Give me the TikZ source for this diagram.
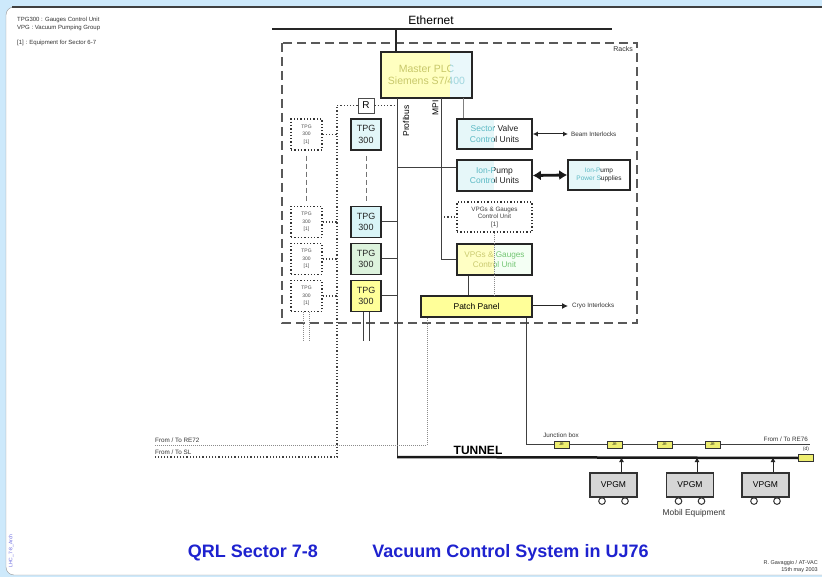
\documentclass[tikz,border=0pt]{standalone}
\usepackage{fontspec}
\setmainfont{Liberation Sans}
\usetikzlibrary{arrows.meta}
\newcommand\fsz[2]{\fontsize{#1}{#2}\selectfont}
\definecolor{bgblue}{HTML}{CDE9FB}
\definecolor{titleblue}{HTML}{1E22CF}
\definecolor{sideblue}{HTML}{6A6AE0}
\definecolor{tpgA}{HTML}{E2F6F8}
\definecolor{tpgB}{HTML}{D9F4F7}
\definecolor{tpgC}{HTML}{DDF3DD}
\definecolor{tpgD}{HTML}{FFFF99}
\definecolor{SVL}{HTML}{E6F7F9}
\definecolor{SVR}{HTML}{FFFFFF}
\definecolor{SVtL}{HTML}{5BB9C4}
\definecolor{SVtR}{HTML}{202020}
\definecolor{PLCL}{HTML}{FFFFC0}
\definecolor{PLCR}{HTML}{EAF8FB}
\definecolor{PLCtL}{HTML}{C8C86A}
\definecolor{PLCtR}{HTML}{9FD6DE}
\definecolor{VPGL}{HTML}{FFFFC4}
\definecolor{VPGR}{HTML}{F4FFF4}
\definecolor{VPGtL}{HTML}{CACA70}
\definecolor{VPGtR}{HTML}{72C672}
\definecolor{ppy}{HTML}{FFFF99}
\definecolor{jy}{HTML}{EEEE70}
\newcommand\twotone[9]{%
  \fill[#7L] (#2,#3) rectangle (#6,#5);
  \fill[#7R] (#6,#3) rectangle (#4,#5);
  \begin{scope}
    \clip (#2,#3) rectangle (#6,#5);
    \node[font={#9}, text=#7tL, align=center, inner sep=0] (#1-l) at ({(#2+#4)/2},{(#3+#5)/2}) {#8};
  \end{scope}
  \begin{scope}
    \clip (#6,#3) rectangle (#4,#5);
    \node[font={#9}, text=#7tR, align=center, inner sep=0] (#1-r) at ({(#2+#4)/2},{(#3+#5)/2}) {#8};
  \end{scope}
  \node[boxframe, minimum width={(#4-#2)*1pt}, minimum height={(#5-#3)*1pt}] (#1) at ({(#2+#4)/2},{(#3+#5)/2}) {};
}
\begin{document}
\begin{tikzpicture}[x=1pt,y=-1pt,
  boxframe/.style={draw=black!85, line width=1.6, inner sep=0},
  tpgbox/.style={boxframe, minimum width=30, minimum height=31, align=center, font=\fsz{9}{11.5}, text=black!85},
  dotbox/.style={draw=black!80, line width=1.3, dotted, fill=white, inner sep=0, align=center},
  tpgdot/.style={dotbox, minimum width=31, minimum height=31, font=\fsz{5}{7.3}, text=black!70},
  wire/.style={draw=black!75, line width=1},
  dotwire/.style={draw=black!75, line width=1.2, dotted},
  graywire/.style={draw=black!45, line width=1, densely dotted},
  dashwire/.style={draw=black!55, line width=1, dash pattern=on 5pt off 3pt},
  racks/.style={draw=black!65, line width=1.8, dash pattern=on 9pt off 5pt},
  lbl/.style={font=\fsz{6.3}{7.5}, inner sep=0, text=black!80},
  jbox/.style={draw=black!80, line width=0.8, fill=jy, minimum width=15, minimum height=7, inner sep=0, font=\fsz{3.5}{4}},
  cart/.style={draw=black!80, line width=1.2, fill=black!16, minimum width=47, minimum height=24, inner sep=0, font=\fsz{8.5}{10}},
  wheel/.style={draw=black!80, line width=1, fill=white}]
\useasboundingbox (0,0) rectangle (822,577);
% frame
\fill[bgblue] (0,0) rectangle (822,577);
\filldraw[fill=white, draw=black!40, rounded corners=8] (6,7) rectangle (840,575);
\draw[black!75, line width=1.2] (12,7) -- (822,7);
% legend
\node[lbl, anchor=west, font=\fsz{6}{7}] (leg1) at (17,20) {TPG300 : Gauges Control Unit};
\node[lbl, anchor=west, font=\fsz{6}{7}] (leg2) at (17,28) {VPG : Vacuum Pumping Group};
\node[lbl, anchor=west, font=\fsz{6}{7}] (leg3) at (17,43) {[1] : Equipment for Sector 6-7};
% racks
\draw[racks] (282,43) rectangle (637,323);
\node[lbl, anchor=east, font=\fsz{7}{8}] (rackl) at (633,49) {Racks};
% ethernet
\coordinate (eL) at (272,29);
\coordinate (eR) at (612,29);
\draw[line width=2.5, black!85] (eL) -- (eR);
\node[font=\fsz{12}{14}, inner sep=0] (ethl) at (431,20) {Ethernet};
% PLC
\twotone{plc}{381}{52}{472}{98}{450}{PLC}{Master PLC\\Siemens S7/400}{\fsz{10.5}{12.5}}
\coordinate (eth) at (396,29);
\draw[line width=1.6, black!85] (eth) -- (eth |- plc.north);
% right side units
\twotone{svc}{457}{119}{532}{149}{494}{SV}{Sector Valve\\Control Units}{\fsz{8.5}{10.5}}
\twotone{ipc}{457}{160}{532}{191}{494}{SV}{Ion-Pump\\Control Units}{\fsz{8.5}{10.5}}
\twotone{ips}{568}{160}{630}{190}{600}{SV}{Ion-Pump\\Power Supplies}{\fsz{6.5}{8.5}}
\node[dotbox, minimum width=75, minimum height=30, font=\fsz{6.3}{7.5}, text=black!75] (vpgd) at (494.5,217) {VPGs \& Gauges\\Control Unit\\{[1]}};
\twotone{vpg}{457}{244}{532}{275}{494}{VPG}{VPGs \& Gauges\\Control Unit}{\fsz{8.2}{10}}
\node[boxframe, fill=ppy, minimum width=111, minimum height=21, font=\fsz{8.5}{10}] (pp) at (476.5,306.5) {Patch Panel};
% PLC links
\coordinate (pb) at (397,98);
\coordinate (tun) at (397,457);
\coordinate (mpi) at (441,98);
\coordinate (plcsv) at (463,98);
\draw[wire] (pb) -- (tun);
\draw[wire] (mpi) |- (vpg.west);
\draw[wire, black!50] (plcsv) -- (plcsv |- svc.north);
\node[rotate=90, font=\fsz{8.5}{10}, inner sep=0] (profl) at (406,121) {Profibus};
\node[rotate=90, font=\fsz{8.5}{10}, inner sep=0] (mpil) at (435.5,108) {MPI};
\coordinate (ipj) at (397,168);
\draw[wire] (ipj) -- (ipj -| ipc.west);
\draw[dotwire] (mpi |- vpgd.west) -- (vpgd.west);
\coordinate (v1) at (468,0);
\draw[wire] (v1 |- vpg.south) -- (v1 |- pp.north);
\draw[graywire] (vpgd.south) -- (vpgd.south |- pp.north);
% interlocks
\coordinate (beam) at (568,134);
\draw[wire, black!85, {Latex[length=5,width=5]}-{Latex[length=5,width=5]}] (svc.east |- beam) -- (beam);
\node[lbl, anchor=west, font=\fsz{6.3}{7.5}] (beaml) at (571,134) {Beam Interlocks};
\draw[line width=2.8, black!90, {Latex[length=8,width=10]}-{Latex[length=8,width=10]}] (ipc.east) -- (ips.west);
\coordinate (cryo) at (568,306);
\draw[wire, black!85, -{Latex[length=6,width=6]}] (pp.east |- cryo) -- (cryo);
\node[lbl, anchor=west] (cryol) at (572,306) {Cryo Interlocks};
% TPG column
\node[tpgbox, fill=tpgA] (tpg1) at (366,134.5) {TPG\\300};
\node[tpgbox, fill=tpgB] (tpg2) at (366,222) {TPG\\300};
\node[tpgbox, fill=tpgC] (tpg3) at (366,259) {TPG\\300};
\node[tpgbox, fill=tpgD] (tpg4) at (366,296) {TPG\\300};
\draw[dashwire] ([yshift=-5]tpg1.south) -- ([yshift=5]tpg2.north);
\draw[wire] (tpg2.east) -- (tpg2.east -| pb);
\draw[wire] (tpg3.east) -- (tpg3.east -| pb);
\draw[wire] (tpg4.east) -- (tpg4.east -| pb);
\draw[wire] ([xshift=-3]tpg4.south) -- ++(0,29);
\draw[wire] ([xshift=3]tpg4.south) -- ++(0,29);
% [1] column
\node[tpgdot] (d1) at (306.5,134.5) {TPG\\300\\{[1]}};
\node[tpgdot] (d2) at (306.5,222) {TPG\\300\\{[1]}};
\node[tpgdot] (d3) at (306.5,259) {TPG\\300\\{[1]}};
\node[tpgdot] (d4) at (306.5,296) {TPG\\300\\{[1]}};
\draw[dashwire] ([yshift=-5]d1.south) -- ([yshift=5]d2.north);
\draw[graywire] ([xshift=-3]d4.south) -- ++(0,29);
\draw[graywire] ([xshift=3]d4.south) -- ++(0,29);
% R and SL link
\node[draw=black!70, line width=0.8, fill=white, minimum width=16, minimum height=15, font=\fsz{10}{12}, inner sep=0] (rbox) at (366,105.5) {R};
\coordinate (slc) at (337,457);
\coordinate (sl) at (155,457);
\draw[dotwire] (rbox.west) -| (slc) -- (sl);
\draw[dotwire] (rbox.east) -- (rbox.east -| pb);
\foreach \d in {d1,d2,d3,d4} \draw[dotwire] (\d.east) -- (\d.east -| slc);
\node[lbl, anchor=south west] (sll) at (155,455) {From / To SL};
% RE72 link
\coordinate (c427) at (427,0);
\coordinate (re72) at (155,445);
\draw[graywire] (c427 |- pp.south) |- (re72);
\node[lbl, anchor=south west] (re72l) at (155,443) {From / To RE72};
% tunnel
\node[jbox] (dbox) at (806,458) {};
\node[lbl, font=\fsz{5}{6}] (dl) at (806,449) {(d)};
\draw[line width=2.5, black!90] (tun) -- (dbox.west);
\node[font=\bfseries\fsz{12}{14}, inner sep=0] (tunl) at (478,450) {TUNNEL};
% junction line
\coordinate (c526) at (526,0);
\coordinate (jend) at (810,444);
\draw[wire] (c526 |- pp.south) |- (jend);
\node[jbox] (j1) at (561.5,444.5) {JR};
\node[jbox] (j2) at (614.5,444.5) {JR};
\node[jbox] (j3) at (664.5,444.5) {JR};
\node[jbox] (j4) at (712.5,444.5) {JR};
\node[lbl] (jbl) at (561,435) {Junction box};
\node[lbl, anchor=east] (re76l) at (808,439) {From / To RE76};
% mobile carts
\foreach \n/\x/\a in {m1/613.5/8, m2/690/7, m3/765.5/7.5}{
  \node[cart] (\n) at (\x,485) {VPGM};
  \draw[wheel] ([xshift=-11.5,yshift=-3.5]\n.south) circle (3.3);
  \draw[wheel] ([xshift=11.5,yshift=-3.5]\n.south) circle (3.3);
  \coordinate (\n a) at ([xshift=\a]\n.north);
  \draw[wire, black!85, -{Latex[length=5,width=5]}] (\n a) -- (\n a |- tun);
}
\node[font=\fsz{8.4}{10}, text=black!80, inner sep=0] (mobl) at (694,513) {Mobil Equipment};
% title
\node[font=\bfseries\fsz{18}{20}, text=titleblue, inner sep=0] (t1) at (253,553) {QRL Sector 7-8};
\node[font=\bfseries\fsz{18}{20}, text=titleblue, inner sep=0] (t2) at (510.5,553) {Vacuum Control System in UJ76};
% side / footer
\node[rotate=90, font=\fsz{5}{6}, text=sideblue, inner sep=0] (side) at (11,551) {LHC\_7-8\_Arch};
\node[lbl, anchor=east, font=\fsz{5.5}{6.5}] (auth) at (818,563) {R. Gavaggio / AT-VAC};
\node[lbl, anchor=east, font=\fsz{5.5}{6.5}] (date) at (818,570) {15th may 2003};
\end{tikzpicture}
\end{document}
